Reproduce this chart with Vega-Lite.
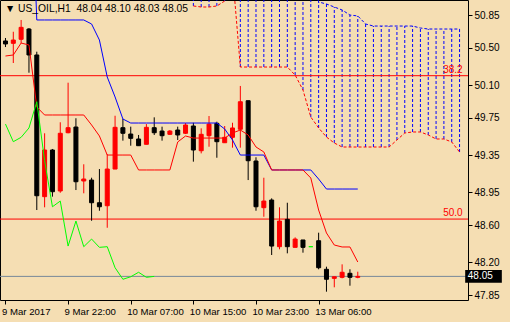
{
  "$schema": "https://vega.github.io/schema/vega-lite/v6.json",
  "width": 468,
  "height": 300,
  "autosize": {"type": "none"},
  "padding": {"left": 0, "top": 0, "right": 42, "bottom": 22},
  "background": "#F5DEB3",
  "config": {
    "view": {"stroke": "#000000", "strokeWidth": 1},
    "axis": {"grid": false, "domain": false, "labelFont": "Liberation Sans", "labelFontSize": 10, "labelColor": "#000000", "tickColor": "#000000", "tickSize": 4, "title": null, "labelOverlap": false}
  },
  "title": {"text": "▼ US_OIL,H1\u00a0\u00a048.04 48.10 48.03 48.05", "anchor": "start", "frame": "group", "orient": "top", "offset": -14, "dx": 5, "font": "Liberation Sans", "fontSize": 10.3, "fontWeight": "normal", "color": "#000000"},
  "datasets": {
    "candles": [
      {"i":0,"o":50.572,"h":50.604,"l":50.507,"c":50.540},
      {"i":1,"o":50.547,"h":50.671,"l":50.336,"c":50.582},
      {"i":2,"o":50.590,"h":50.797,"l":50.547,"c":50.718},
      {"i":3,"o":50.700,"h":50.711,"l":50.232,"c":50.422},
      {"i":4,"o":50.422,"h":50.457,"l":48.761,"c":48.914},
      {"i":5,"o":48.904,"h":49.583,"l":48.790,"c":49.404},
      {"i":6,"o":49.404,"h":49.415,"l":48.904,"c":48.957},
      {"i":7,"o":48.965,"h":49.701,"l":48.946,"c":49.583},
      {"i":8,"o":49.589,"h":50.125,"l":49.583,"c":49.643},
      {"i":9,"o":49.650,"h":49.744,"l":48.975,"c":49.064},
      {"i":10,"o":49.072,"h":49.251,"l":48.940,"c":49.093},
      {"i":11,"o":49.082,"h":49.107,"l":48.646,"c":48.839},
      {"i":12,"o":48.839,"h":49.200,"l":48.753,"c":48.796},
      {"i":13,"o":48.807,"h":49.358,"l":48.571,"c":49.200},
      {"i":14,"o":49.200,"h":49.771,"l":49.200,"c":49.647},
      {"i":15,"o":49.643,"h":49.736,"l":49.504,"c":49.583},
      {"i":16,"o":49.575,"h":49.654,"l":49.450,"c":49.529},
      {"i":17,"o":49.522,"h":49.565,"l":49.450,"c":49.450},
      {"i":18,"o":49.465,"h":49.682,"l":49.465,"c":49.647},
      {"i":19,"o":49.643,"h":49.754,"l":49.565,"c":49.589},
      {"i":20,"o":49.607,"h":49.654,"l":49.504,"c":49.557},
      {"i":21,"o":49.572,"h":49.618,"l":49.565,"c":49.607},
      {"i":22,"o":49.618,"h":49.654,"l":49.511,"c":49.565},
      {"i":23,"o":49.583,"h":49.693,"l":49.575,"c":49.672},
      {"i":24,"o":49.661,"h":49.696,"l":49.279,"c":49.404},
      {"i":25,"o":49.396,"h":49.636,"l":49.368,"c":49.572},
      {"i":26,"o":49.557,"h":49.768,"l":49.439,"c":49.682},
      {"i":27,"o":49.690,"h":49.707,"l":49.321,"c":49.493},
      {"i":28,"o":49.482,"h":49.661,"l":49.482,"c":49.540},
      {"i":29,"o":49.540,"h":49.696,"l":49.429,"c":49.640},
      {"i":30,"o":49.626,"h":50.090,"l":49.429,"c":49.921},
      {"i":31,"o":49.932,"h":49.932,"l":49.082,"c":49.289},
      {"i":32,"o":49.286,"h":49.326,"l":48.753,"c":48.796},
      {"i":33,"o":48.786,"h":49.107,"l":48.689,"c":48.857},
      {"i":34,"o":48.868,"h":48.886,"l":48.279,"c":48.375},
      {"i":35,"o":48.368,"h":48.790,"l":48.340,"c":48.643},
      {"i":36,"o":48.661,"h":48.839,"l":48.297,"c":48.368},
      {"i":37,"o":48.361,"h":48.468,"l":48.361,"c":48.450},
      {"i":38,"o":48.440,"h":48.440,"l":48.304,"c":48.361},
      {"i":39,"o":48.368,"h":48.368,"l":48.368,"c":48.368},
      {"i":40,"o":48.432,"h":48.518,"l":48.126,"c":48.143},
      {"i":41,"o":48.126,"h":48.154,"l":47.886,"c":48.019},
      {"i":42,"o":48.029,"h":48.046,"l":47.933,"c":48.046},
      {"i":43,"o":48.040,"h":48.179,"l":48.029,"c":48.094},
      {"i":44,"o":48.083,"h":48.126,"l":47.950,"c":48.040},
      {"i":45,"o":48.040,"h":48.100,"l":48.030,"c":48.050}
    ],
    "kijun": [
      {"i":3,"v":53},{"i":4,"v":50.797},{"i":5,"v":50.797},{"i":6,"v":50.797},{"i":7,"v":50.797},{"i":8,"v":50.797},{"i":9,"v":50.797},{"i":10,"v":50.797},
      {"i":11,"v":50.754},{"i":12,"v":50.582},{"i":13,"v":50.186},{"i":14,"v":49.972},{"i":15,"v":49.736},
      {"i":16,"v":49.693},{"i":17,"v":49.693},{"i":18,"v":49.693},{"i":19,"v":49.693},{"i":20,"v":49.693},{"i":21,"v":49.693},{"i":22,"v":49.693},{"i":23,"v":49.693},{"i":24,"v":49.693},{"i":25,"v":49.693},{"i":26,"v":49.693},{"i":27,"v":49.693},
      {"i":28,"v":49.629},{"i":29,"v":49.511},{"i":30,"v":49.350},{"i":31,"v":49.350},{"i":32,"v":49.350},{"i":33,"v":49.350},
      {"i":34,"v":49.190},{"i":35,"v":49.190},{"i":36,"v":49.190},{"i":37,"v":49.190},{"i":38,"v":49.190},{"i":39,"v":49.190},
      {"i":40,"v":49.093},{"i":41,"v":48.986},{"i":42,"v":48.986},{"i":43,"v":48.986},{"i":44,"v":48.986},{"i":45,"v":48.986}
    ],
    "tenkan": [
      {"i":0,"v":50.411},{"i":1,"v":50.422},{"i":2,"v":50.550},{"i":3,"v":50.529},{"i":4,"v":49.865},
      {"i":5,"v":49.779},{"i":6,"v":49.779},{"i":7,"v":49.779},{"i":8,"v":49.779},{"i":9,"v":49.779},{"i":10,"v":49.779},
      {"i":11,"v":49.672},{"i":12,"v":49.554},{"i":13,"v":49.350},{"i":14,"v":49.350},{"i":15,"v":49.350},{"i":16,"v":49.350},
      {"i":17,"v":49.190},{"i":18,"v":49.190},{"i":19,"v":49.190},{"i":20,"v":49.190},{"i":21,"v":49.190},
      {"i":22,"v":49.490},{"i":23,"v":49.554},{"i":24,"v":49.532},{"i":25,"v":49.532},{"i":26,"v":49.532},{"i":27,"v":49.532},{"i":28,"v":49.532},
      {"i":29,"v":49.586},{"i":30,"v":49.618},{"i":31,"v":49.565},{"i":32,"v":49.436},{"i":33,"v":49.383},
      {"i":34,"v":49.190},{"i":35,"v":49.190},{"i":36,"v":49.190},{"i":37,"v":49.190},{"i":38,"v":49.190},
      {"i":39,"v":49.104},{"i":40,"v":48.761},{"i":41,"v":48.515},{"i":42,"v":48.386},{"i":43,"v":48.365},{"i":44,"v":48.365},{"i":45,"v":48.204}
    ],
    "chikou": [
      {"i":0,"v":49.682},{"i":1,"v":49.493},{"i":2,"v":49.540},{"i":3,"v":49.640},{"i":4,"v":49.921},
      {"i":5,"v":49.289},{"i":6,"v":48.796},{"i":7,"v":48.857},{"i":8,"v":48.375},{"i":9,"v":48.643},
      {"i":10,"v":48.368},{"i":11,"v":48.450},{"i":12,"v":48.361},{"i":13,"v":48.368},{"i":14,"v":48.143},
      {"i":15,"v":48.019},{"i":16,"v":48.046},{"i":17,"v":48.094},{"i":18,"v":48.040},{"i":19,"v":48.050}
    ],
    "cloud": [
      {"i":24,"up":51.3,"lo":50.947},{"i":25,"up":51.3,"lo":50.936},{"i":26,"up":51.3,"lo":50.936},{"i":27,"up":51.3,"lo":50.947},
      {"i":28,"up":51.3,"lo":51.0},{"i":29,"up":51.3,"lo":51.3},
      {"i":30,"up":51.3,"lo":50.293},{"i":31,"up":51.3,"lo":50.293},{"i":32,"up":51.3,"lo":50.293},{"i":33,"up":51.3,"lo":50.293},
      {"i":34,"up":51.3,"lo":50.293},{"i":35,"up":51.3,"lo":50.293},{"i":36,"up":51.3,"lo":50.293},
      {"i":37,"up":51.3,"lo":50.207},{"i":38,"up":51.3,"lo":50.047},{"i":39,"up":51.3,"lo":49.757},
      {"i":40,"up":50.99,"lo":49.640},{"i":41,"up":50.968,"lo":49.543},{"i":42,"up":50.936,"lo":49.479},
      {"i":43,"up":50.904,"lo":49.436},{"i":44,"up":50.85,"lo":49.436},{"i":45,"up":50.84,"lo":49.436},
      {"i":46,"up":50.754,"lo":49.436},{"i":47,"up":50.732,"lo":49.436},{"i":48,"up":50.732,"lo":49.436},
      {"i":49,"up":50.732,"lo":49.436},{"i":50,"up":50.732,"lo":49.511},{"i":51,"up":50.732,"lo":49.586},
      {"i":52,"up":50.732,"lo":49.597},{"i":53,"up":50.711,"lo":49.597},{"i":54,"up":50.700,"lo":49.565},
      {"i":55,"up":50.700,"lo":49.522},{"i":56,"up":50.700,"lo":49.522},{"i":57,"up":50.700,"lo":49.490},
      {"i":58,"up":50.700,"lo":49.382}
    ],
    "fib": [
      {"price":50.200,"label":"38.2"},
      {"price":48.664,"label":"50.0"}
    ],
    "bid": [{"price":48.05,"label":"48.05","lo":47.982,"hi":48.118}]
  },
  "layer": [
    {
      "data": {"name": "cloud"},
      "mark": {"type": "rule", "color": "#0000FF", "strokeWidth": 1, "strokeDash": [3, 2], "clip": true},
      "encoding": {
        "x": {"field": "i", "type": "quantitative", "scale": {"domain": [-0.06, 58.44], "nice": false, "zero": false},
          "axis": {"values": [0, 8, 16, 24, 32, 40], "tickCount": 20, "labelAlign": "left", "labelPadding": 2, "labelOffset": -4, "labelFontSize": 9.6, "labelFlush": false, "labelOverlap": false,
            "labelExpr": "datum.value==0?'9 Mar 2017':datum.value==8?'9 Mar 22:00':datum.value==16?'10 Mar 07:00':datum.value==24?'10 Mar 15:00':datum.value==32?'10 Mar 23:00':'13 Mar 06:00'"}},
        "y": {"field": "lo", "type": "quantitative", "scale": {"domain": [47.797, 51.011], "nice": false, "zero": false},
          "axis": {"orient": "right", "values": [47.85, 48.2, 48.6, 48.95, 49.35, 49.75, 50.1, 50.5, 50.85], "tickCount": 20, "format": ".2f", "labelPadding": 2, "labelOverlap": false, "labelFlush": false}},
        "y2": {"field": "up"}
      }
    },
    {
      "data": {"name": "cloud"},
      "mark": {"type": "line", "color": "#0000FF", "strokeWidth": 1, "strokeDash": [3, 2], "clip": true},
      "encoding": {"x": {"field": "i", "type": "quantitative"}, "y": {"field": "up", "type": "quantitative"}}
    },
    {
      "data": {"name": "cloud"},
      "mark": {"type": "line", "color": "#FF0000", "strokeWidth": 1, "strokeDash": [3, 2], "clip": true},
      "encoding": {"x": {"field": "i", "type": "quantitative"}, "y": {"field": "lo", "type": "quantitative"}}
    },
    {
      "data": {"name": "fib"},
      "mark": {"type": "rule", "color": "#FF0000", "strokeWidth": 1},
      "encoding": {"y": {"field": "price", "type": "quantitative"}}
    },
    {
      "data": {"name": "bid"},
      "mark": {"type": "rule", "color": "#778899", "strokeWidth": 1},
      "encoding": {"y": {"field": "price", "type": "quantitative"}}
    },
    {
      "data": {"name": "candles"},
      "mark": {"type": "rule", "strokeWidth": 1},
      "encoding": {
        "x": {"field": "i", "type": "quantitative"},
        "y": {"field": "l", "type": "quantitative"},
        "y2": {"field": "h"},
        "color": {"condition": [{"test": "datum.c == datum.o", "value": "#00FF00"}, {"test": "datum.c > datum.o", "value": "#FF0000"}], "value": "#000000"}
      }
    },
    {
      "data": {"name": "candles"},
      "mark": {"type": "bar", "size": 4, "strokeWidth": 1},
      "encoding": {
        "x": {"field": "i", "type": "quantitative"},
        "y": {"field": "o", "type": "quantitative"},
        "y2": {"field": "c"},
        "fill": {"condition": [{"test": "datum.c == datum.o", "value": "#00FF00"}, {"test": "datum.c > datum.o", "value": "#FF0000"}], "value": "#000000"},
        "stroke": {"condition": [{"test": "datum.c == datum.o", "value": "#00FF00"}, {"test": "datum.c > datum.o", "value": "#FF0000"}], "value": "#000000"}
      }
    },
    {
      "data": {"name": "kijun"},
      "mark": {"type": "line", "color": "#0000FF", "strokeWidth": 1, "clip": true},
      "encoding": {"x": {"field": "i", "type": "quantitative"}, "y": {"field": "v", "type": "quantitative"}}
    },
    {
      "data": {"name": "tenkan"},
      "mark": {"type": "line", "color": "#FF0000", "strokeWidth": 1, "clip": true},
      "encoding": {"x": {"field": "i", "type": "quantitative"}, "y": {"field": "v", "type": "quantitative"}}
    },
    {
      "data": {"name": "chikou"},
      "mark": {"type": "line", "color": "#00FF00", "strokeWidth": 1, "clip": true},
      "encoding": {"x": {"field": "i", "type": "quantitative"}, "y": {"field": "v", "type": "quantitative"}}
    },
    {
      "data": {"name": "fib"},
      "mark": {"type": "text", "align": "right", "baseline": "bottom", "dy": -1, "color": "#FF0000", "font": "Liberation Sans", "fontSize": 10},
      "encoding": {"x": {"datum": 58.4, "type": "quantitative"}, "y": {"field": "price", "type": "quantitative"}, "text": {"field": "label", "type": "nominal"}}
    },
    {
      "data": {"name": "bid"},
      "mark": {"type": "rect", "color": "#000000", "clip": false},
      "encoding": {"x": {"datum": 58.72, "type": "quantitative"}, "x2": {"datum": 63.4}, "y": {"field": "lo", "type": "quantitative"}, "y2": {"field": "hi"}}
    },
    {
      "data": {"name": "bid"},
      "mark": {"type": "text", "align": "left", "baseline": "middle", "color": "#FFFFFF", "font": "Liberation Sans", "fontSize": 10, "clip": false},
      "encoding": {"x": {"datum": 59.05, "type": "quantitative"}, "y": {"field": "price", "type": "quantitative"}, "text": {"field": "label", "type": "nominal"}}
    }
  ]
}
